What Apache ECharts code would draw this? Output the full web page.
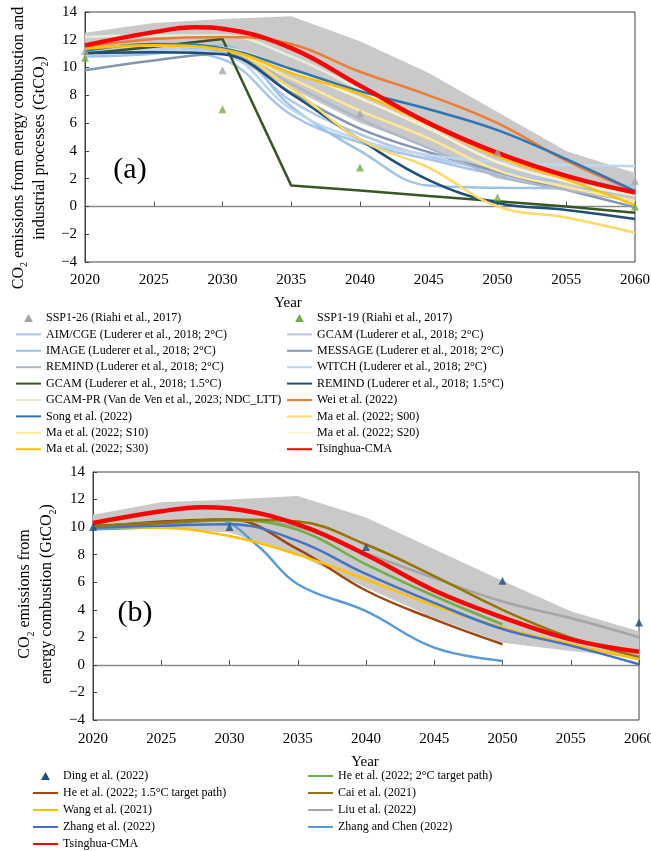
<!DOCTYPE html>
<html>
<head>
<meta charset="utf-8">
<script src="https://cdn.jsdelivr.net/npm/echarts@6/dist/echarts.min.js"></script>
<style>
html, body { margin: 0; padding: 0; background: #fff; }
#chart { width: 651px; height: 851px; }
</style>
</head>
<body>
<div id="chart"></div>
<script>
// ---- panel (a): energy + industrial processes ----
var yrs = [2020, 2025, 2030, 2035, 2040, 2045, 2050, 2055, 2060];
var sspYrs = [2020, 2030, 2040, 2050, 2060];
var ssp126 = [11.2, 9.8, 6.7, 3.9, 1.85];
var ssp119 = [10.7, 7.0, 2.8, 0.65, 0.0];
var aimCge2 = [10.9, 11.2, 10.6, 6.6, 4.6, 3.4, 2.3, 1.8, 1.5];
var gcam2 = [11.0, 11.3, 11.2, 7.6, 5.2, 3.6, 2.6, 1.9, 1.3];
var image2 = [10.8, 11.0, 11.6, 7.2, 4.0, 1.5, 1.35, 1.3, 0.8];
var message2 = [9.8, 10.5, 11.0, 8.2, 5.6, 3.9, 2.5, 1.2, -0.05];
var remind2 = [11.0, 11.1, 11.2, 8.8, 6.3, 4.2, 2.2, 1.2, 0.4];
var witch2 = [10.9, 11.3, 11.0, 7.0, 4.8, 3.7, 3.2, 3.0, 2.9];
var gcam15 = [11.0, 11.5, 12.05, 1.5, 1.15, 0.75, 0.38, 0.0, -0.46];
var remind15 = [11.05, 11.1, 10.95, 8.1, 4.8, 1.9, 0.25, -0.25, -0.9];
var gcamPrYrs = [2020, 2025, 2030, 2035, 2040, 2045, 2050];
var gcamPr = [12.2, 12.3, 12.3, 10.8, 8.4, 5.8, 4.0];
var wei = [11.5, 12.05, 12.2, 11.7, 9.7, 8.0, 6.0, 3.3, 1.1];
var song = [11.2, 11.7, 11.4, 9.9, 8.3, 7.0, 5.5, 3.4, 1.1];
var maS00 = [11.3, 11.6, 11.3, 8.5, 4.8, 2.8, 0.0, -0.8, -1.9];
var maS10 = [11.3, 11.6, 11.3, 9.2, 6.9, 4.9, 2.6, 1.4, 0.4];
var maS20 = [11.3, 11.6, 11.4, 9.8, 7.8, 5.6, 3.2, 1.8, 0.8];
var maS30 = [11.35, 11.6, 11.3, 9.6, 8.1, 5.9, 3.6, 1.95, 0.1];
var thuYrs = [2020, 2025, 2028, 2030, 2035, 2040, 2045, 2050, 2055, 2060];
var thuA = [11.6, 12.55, 12.9, 12.8, 11.4, 8.7, 6.0, 3.85, 2.2, 1.0];
var bandAHi = [12.5, 13.2, 13.5, 13.7, 11.9, 9.6, 6.8, 4.0, 2.4];
var bandALo = [11.0, 11.2, 11.0, 8.5, 6.0, 4.2, 2.0, 1.2, 0.5];

// ---- panel (b): energy combustion ----
var dingYrs = [2020, 2030, 2040, 2050, 2060];
var ding = [10.0, 10.0, 8.55, 6.1, 3.07];
var to2050 = [2020, 2025, 2030, 2035, 2040, 2045, 2050];
var he2 = [10.1, 10.3, 10.5, 9.8, 7.3, 5.0, 2.94];
var he15 = [10.0, 10.4, 10.55, 8.4, 5.4, 3.3, 1.5];
var cai = [10.1, 10.3, 10.55, 10.4, 8.74, 6.45, 4.0, 1.98, 0.58];
var wang = [10.0, 9.95, 9.35, 8.0, 6.2, 4.3, 2.7, 1.5, 0.4];
var liu = [10.0, 10.2, 10.5, 10.0, 8.1, 6.3, 4.6, 3.4, 2.0];
var zhang = [9.95, 10.1, 10.2, 9.0, 6.6, 4.5, 2.6, 1.4, 0.05];
var zcYrs = [2020, 2025, 2029, 2032, 2035, 2040, 2045, 2050];
var zhangChen = [9.85, 10.05, 10.55, 8.7, 5.85, 3.9, 1.25, 0.29];
var thuB = [10.3, 11.15, 11.45, 11.35, 10.2, 8.0, 5.4, 3.45, 1.85, 0.95];
var bandBHi = [10.9, 11.8, 12.0, 12.25, 10.7, 8.4, 6.1, 3.9, 2.45];
var bandBLo = [9.9, 9.9, 9.6, 8.0, 5.6, 3.4, 1.6, 1.0, 0.5];

var FONT = 'Liberation Serif';
var TRI = 'path://M5,0L10,9L0,9Z';

function pairs(xs, ys) {
  return xs.map(function (x, i) { return [x, ys[i]]; });
}

function line(name, xs, ys, color, g, width, smooth) {
  return {
    name: name, type: 'line', xAxisIndex: g * 2, yAxisIndex: g,
    data: pairs(xs, ys), symbol: 'none',
    smooth: smooth === undefined ? 0.4 : smooth,
    lineStyle: { color: color, width: width || 2.5 },
    itemStyle: { color: color },
    z: 3
  };
}

function tri(name, xs, ys, color, g) {
  return {
    name: name, type: 'scatter', xAxisIndex: g * 2, yAxisIndex: g,
    data: pairs(xs, ys), symbol: 'triangle', symbolSize: 8,
    itemStyle: { color: color }, z: 4
  };
}

function band(lo, hi, g) {
  return {
    type: 'custom', xAxisIndex: g * 2, yAxisIndex: g, silent: true, z: 1,
    data: [[yrs[0], lo[0]]],
    renderItem: function (params, api) {
      var pts = [];
      for (var i = 0; i < yrs.length; i++) pts.push(api.coord([yrs[i], hi[i]]));
      for (var j = yrs.length - 1; j >= 0; j--) pts.push(api.coord([yrs[j], lo[j]]));
      return { type: 'polygon', shape: { points: pts }, style: { fill: '#c9c9c9' } };
    }
  };
}

function xAxes(g) {
  return [{
    type: 'value', gridIndex: g, position: 'bottom', min: 2020, max: 2060, interval: 5,
    axisLine: { show: false, onZero: false }, axisTick: { show: false },
    splitLine: { show: false },
    axisLabel: { fontFamily: FONT, fontSize: 15, color: '#000', margin: g ? 12 : 11,
      formatter: function (v) { return String(v); } }
  }, {
    type: 'value', gridIndex: g, position: 'bottom', min: 2020, max: 2060, interval: 5,
    axisLine: { show: true, onZero: true, lineStyle: { color: '#8a8a8a', width: 1.3 } },
    axisTick: { show: true, inside: true, length: 5, lineStyle: { color: '#555' } },
    axisLabel: { show: false }, splitLine: { show: false }
  }];
}

function yAxis(g) {
  return {
    type: 'value', gridIndex: g, min: -4, max: 14, interval: 2,
    axisLine: { show: true, lineStyle: { color: '#404040' } },
    axisTick: { show: true, inside: true, length: 4, lineStyle: { color: '#404040' } },
    splitLine: { show: false },
    axisLabel: { fontFamily: FONT, fontSize: 15, color: '#000', margin: 8,
      formatter: function (v) { return v < 0 ? '\u2212' + Math.abs(v) : String(v); } }
  };
}

// legend entries: lines hide the middle symbol, triangles keep a small marker
function entry(name) {
  if (name.indexOf('SSP') === 0 || name.indexOf('Ding') === 0) {
    return { name: name, icon: TRI, itemStyle: { opacity: 1 } };
  }
  return { name: name };
}

function legend(left, top, names, gap) {
  return {
    left: left, top: top, orient: 'vertical', itemWidth: 25, itemHeight: 8,
    itemGap: gap, data: names.map(entry), selectedMode: false, padding: 0,
    itemStyle: { opacity: 0 },
    textStyle: { fontFamily: FONT, fontSize: 12, color: '#000', lineHeight: 16 }
  };
}

var series = [
  band(bandALo, bandAHi, 0),
  line('AIM/CGE (Luderer et al., 2018; 2°C)', yrs, aimCge2, '#a9c4eb', 0),
  line('GCAM (Luderer et al., 2018; 2°C)', yrs, gcam2, '#b4c7e7', 0),
  line('IMAGE (Luderer et al., 2018; 2°C)', yrs, image2, '#9dc3e6', 0),
  line('MESSAGE (Luderer et al., 2018; 2°C)', yrs, message2, '#8497b0', 0),
  line('REMIND (Luderer et al., 2018; 2°C)', yrs, remind2, '#adb9ca', 0),
  line('WITCH (Luderer et al., 2018; 2°C)', yrs, witch2, '#bdd7ee', 0),
  line('GCAM (Luderer et al., 2018; 1.5°C)', yrs, gcam15, '#375623', 0, 2.5, false),
  line('REMIND (Luderer et al., 2018; 1.5°C)', yrs, remind15, '#1f4e79', 0),
  line('GCAM-PR (Van de Ven et al., 2023; NDC_LTT)', gcamPrYrs, gcamPr, '#e2f0d9', 0),
  line('Ma et al. (2022; S20)', yrs, maS20, '#fff2cc', 0),
  line('Ma et al. (2022; S10)', yrs, maS10, '#ffe699', 0),
  line('Ma et al. (2022; S00)', yrs, maS00, '#ffd966', 0),
  line('Wei et al. (2022)', yrs, wei, '#ed7d31', 0),
  line('Song et al. (2022)', yrs, song, '#2e75b6', 0),
  line('Ma et al. (2022; S30)', yrs, maS30, '#ffc000', 0),
  tri('SSP1-26 (Riahi et al., 2017)', sspYrs, ssp126, '#a5a5a5', 0),
  tri('SSP1-19 (Riahi et al., 2017)', sspYrs, ssp119, '#70ad47', 0),
  line('Tsinghua-CMA', thuYrs, thuA, '#ff0000', 0, 4.5),

  band(bandBLo, bandBHi, 1),
  line('Liu et al. (2022)', yrs, liu, '#a5a5a5', 1),
  line('Zhang and Chen (2022)', zcYrs, zhangChen, '#5b9bd5', 1),
  line('He et al. (2022; 1.5°C target path)', to2050, he15, '#9e480e', 1),
  line('Wang et al. (2021)', yrs, wang, '#ffc000', 1),
  line('Zhang et al. (2022)', yrs, zhang, '#4472c4', 1),
  line('He et al. (2022; 2°C target path)', to2050, he2, '#70ad47', 1),
  line('Cai et al. (2021)', yrs, cai, '#997300', 1),
  tri('Ding et al. (2022)', dingYrs, ding, '#1f4e79', 1),
  line('Tsinghua-CMA', thuYrs, thuB, '#ff0000', 1, 4.5)
];

var chart = echarts.init(document.getElementById('chart'), null, { renderer: 'canvas' });
chart.setOption({
  animation: false,
  backgroundColor: '#fff',
  grid: [
    { left: 85, top: 12, width: 550, height: 250, show: true, borderColor: '#404040', borderWidth: 1, outerBoundsMode: 'none' },
    { left: 93, top: 472, width: 546, height: 248, show: true, borderColor: '#404040', borderWidth: 1, outerBoundsMode: 'none' }
  ],
  xAxis: xAxes(0).concat(xAxes(1)),
  yAxis: [yAxis(0), yAxis(1)],
  legend: [
    legend(15, 310, ['SSP1-26 (Riahi et al., 2017)', 'AIM/CGE (Luderer et al., 2018; 2°C)',
      'IMAGE (Luderer et al., 2018; 2°C)', 'REMIND (Luderer et al., 2018; 2°C)',
      'GCAM (Luderer et al., 2018; 1.5°C)', 'GCAM-PR (Van de Ven et al., 2023; NDC_LTT)',
      'Song et al. (2022)', 'Ma et al. (2022; S10)', 'Ma et al. (2022; S30)'], 0.4),
    legend(286, 310, ['SSP1-19 (Riahi et al., 2017)', 'GCAM (Luderer et al., 2018; 2°C)',
      'MESSAGE (Luderer et al., 2018; 2°C)', 'WITCH (Luderer et al., 2018; 2°C)',
      'REMIND (Luderer et al., 2018; 1.5°C)', 'Wei et al. (2022)',
      'Ma et al. (2022; S00)', 'Ma et al. (2022; S20)', 'Tsinghua-CMA'], 0.4),
    legend(32, 768, ['Ding et al. (2022)', 'He et al. (2022; 1.5°C target path)',
      'Wang et al. (2021)', 'Zhang et al. (2022)'], 1),
    legend(32, 836, ['Tsinghua-CMA'], 1),
    legend(307, 768, ['He et al. (2022; 2°C target path)', 'Cai et al. (2021)',
      'Liu et al. (2022)', 'Zhang and Chen (2022)'], 1)
  ],
  graphic: [
    { type: 'text', x: 130, y: 170, style: { text: '(a)', font: '30px ' + FONT, fill: '#000', align: 'center', verticalAlign: 'middle' } },
    { type: 'text', x: 135, y: 613, style: { text: '(b)', font: '30px ' + FONT, fill: '#000', align: 'center', verticalAlign: 'middle' } },
    { type: 'text', x: 288, y: 303, style: { text: 'Year', font: '15px ' + FONT, fill: '#000', align: 'center', verticalAlign: 'middle' } },
    { type: 'text', x: 365, y: 762, style: { text: 'Year', font: '15px ' + FONT, fill: '#000', align: 'center', verticalAlign: 'middle' } },
    { type: 'text', x: 29, y: 148, rotation: Math.PI / 2,
      style: { text: 'CO{s|2} emissions from energy combustion and\nindustrial processes (GtCO{s|2})',
        font: '16px ' + FONT, fill: '#000', align: 'center', verticalAlign: 'middle', lineHeight: 21,
        rich: { s: { fontSize: 10, fontFamily: FONT, verticalAlign: 'bottom', lineHeight: 21, padding: [6, 0, 0, 0] } } } },
    { type: 'text', x: 36, y: 594, rotation: Math.PI / 2,
      style: { text: 'CO{s|2} emissions from\nenergy combustion (GtCO{s|2})',
        font: '16px ' + FONT, fill: '#000', align: 'center', verticalAlign: 'middle', lineHeight: 22,
        rich: { s: { fontSize: 10, fontFamily: FONT, verticalAlign: 'bottom', lineHeight: 22, padding: [6, 0, 0, 0] } } } }
  ],
  series: series
});
</script>
</body>
</html>
